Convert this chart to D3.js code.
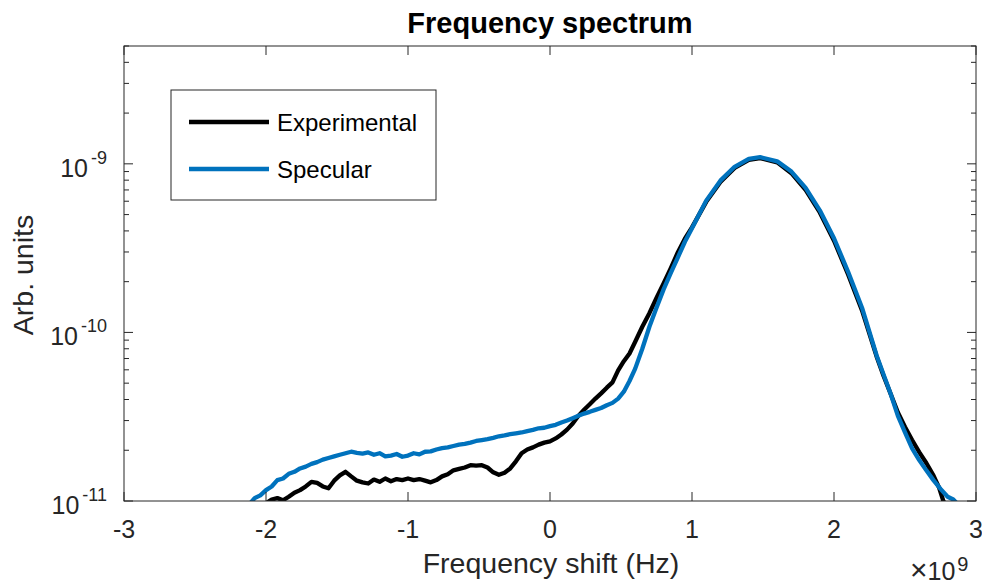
<!DOCTYPE html>
<html lang="en">
<head>
    <meta charset="utf-8"/>
    <title>Frequency spectrum</title>
    <script src="https://d3js.org/d3.v7.min.js"></script>
    <style>
        body { margin: 0; background: #fff; }
        svg { display: block; font-family: "Liberation Sans", Arial, Helvetica, sans-serif; }
    </style>
</head>
<body>
    <div id="chart"></div>

    <script>
        // x in units of 1e9 Hz
        const xTicks = [-3, -2, -1, 0, 1, 2, 3];
        const yTickExps = [-11, -10, -9];
        const seriesNames = ["Experimental", "Specular"];
        const seriesColors = ["#000000", "#0072BD"];

        const expX = [-2.0, -1.96, -1.92, -1.88, -1.84, -1.8, -1.76, -1.72, -1.68, -1.64, -1.6, -1.56, -1.52, -1.48, -1.44,
            -1.4, -1.36, -1.32, -1.28, -1.24, -1.2, -1.16, -1.12, -1.08, -1.04, -1.0, -0.96, -0.92, -0.88, -0.84, -0.8,
            -0.76, -0.72, -0.68, -0.64, -0.6, -0.56, -0.52, -0.48, -0.44, -0.4, -0.36, -0.32, -0.28, -0.24, -0.2, -0.16,
            -0.12, -0.08, -0.04, 0, 0.04, 0.08, 0.12, 0.16, 0.2, 0.24, 0.28, 0.32, 0.36, 0.4, 0.44, 0.48, 0.52, 0.56, 0.6,
            0.65, 0.7, 0.75, 0.8, 0.85, 0.9, 0.95, 1.0, 1.1, 1.2, 1.3, 1.4, 1.48, 1.6, 1.7, 1.8, 1.9, 2.0, 2.1, 2.2, 2.3,
            2.35, 2.4, 2.45, 2.5, 2.55, 2.6, 2.65, 2.7, 2.74, 2.77, 2.79];
        const expY = [0.97e-11, 1.02e-11, 1.04e-11, 1.01e-11, 1.06e-11, 1.12e-11, 1.16e-11, 1.22e-11, 1.30e-11, 1.28e-11,
            1.22e-11, 1.19e-11, 1.32e-11, 1.42e-11, 1.49e-11, 1.40e-11, 1.32e-11, 1.29e-11, 1.27e-11, 1.34e-11, 1.30e-11,
            1.36e-11, 1.31e-11, 1.35e-11, 1.33e-11, 1.36e-11, 1.33e-11, 1.35e-11, 1.32e-11, 1.29e-11, 1.33e-11, 1.40e-11,
            1.44e-11, 1.52e-11, 1.55e-11, 1.58e-11, 1.63e-11, 1.62e-11, 1.63e-11, 1.58e-11, 1.48e-11, 1.43e-11, 1.47e-11,
            1.56e-11, 1.72e-11, 1.92e-11, 2.02e-11, 2.08e-11, 2.16e-11, 2.22e-11, 2.26e-11, 2.35e-11, 2.48e-11, 2.65e-11,
            2.88e-11, 3.20e-11, 3.48e-11, 3.75e-11, 4.05e-11, 4.35e-11, 4.70e-11, 5.05e-11, 5.95e-11, 6.75e-11, 7.5e-11,
            8.8e-11, 1.08e-10, 1.30e-10, 1.60e-10, 1.95e-10, 2.40e-10, 2.98e-10, 3.60e-10, 4.20e-10, 5.95e-10, 7.8e-10,
            9.45e-10, 1.055e-9, 1.08e-9, 1.02e-9, 8.8e-10, 7.0e-10, 5.15e-10, 3.5e-10, 2.2e-10, 1.33e-10, 7.2e-11, 5.5e-11,
            4.3e-11, 3.35e-11, 2.75e-11, 2.3e-11, 1.95e-11, 1.68e-11, 1.42e-11, 1.2e-11, 1.0e-11, 0.94e-11];

        const specX = [-2.12, -2.08, -2.04, -2.0, -1.96, -1.92, -1.88, -1.84, -1.8, -1.76, -1.72, -1.68, -1.64, -1.6, -1.56,
            -1.52, -1.48, -1.44, -1.4, -1.36, -1.32, -1.28, -1.24, -1.2, -1.16, -1.12, -1.08, -1.04, -1.0, -0.96, -0.92,
            -0.88, -0.84, -0.8, -0.76, -0.72, -0.68, -0.64, -0.6, -0.56, -0.52, -0.48, -0.44, -0.4, -0.36, -0.32, -0.28,
            -0.24, -0.2, -0.16, -0.12, -0.08, -0.04, 0, 0.04, 0.08, 0.12, 0.16, 0.2, 0.24, 0.28, 0.32, 0.36, 0.4, 0.44,
            0.48, 0.52, 0.56, 0.6, 0.65, 0.7, 0.75, 0.8, 0.85, 0.9, 0.95, 1.0, 1.1, 1.2, 1.3, 1.4, 1.48, 1.6, 1.7, 1.8,
            1.9, 2.0, 2.1, 2.2, 2.3, 2.35, 2.4, 2.45, 2.5, 2.55, 2.6, 2.65, 2.7, 2.75, 2.8, 2.84, 2.87];
        const specY = [0.95e-11, 1.04e-11, 1.08e-11, 1.16e-11, 1.22e-11, 1.33e-11, 1.36e-11, 1.45e-11, 1.49e-11, 1.56e-11,
            1.60e-11, 1.66e-11, 1.70e-11, 1.76e-11, 1.80e-11, 1.84e-11, 1.88e-11, 1.92e-11, 1.96e-11, 1.93e-11, 1.91e-11,
            1.94e-11, 1.88e-11, 1.92e-11, 1.84e-11, 1.86e-11, 1.90e-11, 1.83e-11, 1.86e-11, 1.92e-11, 1.89e-11, 1.96e-11,
            1.97e-11, 2.02e-11, 2.06e-11, 2.08e-11, 2.12e-11, 2.16e-11, 2.18e-11, 2.22e-11, 2.27e-11, 2.30e-11, 2.33e-11,
            2.37e-11, 2.42e-11, 2.45e-11, 2.49e-11, 2.52e-11, 2.55e-11, 2.60e-11, 2.64e-11, 2.70e-11, 2.72e-11, 2.78e-11,
            2.83e-11, 2.92e-11, 3.00e-11, 3.10e-11, 3.20e-11, 3.30e-11, 3.38e-11, 3.47e-11, 3.56e-11, 3.70e-11, 3.82e-11,
            4.05e-11, 4.45e-11, 5.15e-11, 6.1e-11, 8.0e-11, 1.08e-10, 1.40e-10, 1.80e-10, 2.25e-10, 2.78e-10, 3.45e-10,
            4.15e-10, 6.05e-10, 7.95e-10, 9.6e-10, 1.07e-9, 1.095e-9, 1.035e-9, 9.0e-10, 7.2e-10, 5.3e-10, 3.62e-10,
            2.28e-10, 1.38e-10, 7.3e-11, 5.6e-11, 4.3e-11, 3.2e-11, 2.55e-11, 2.05e-11, 1.75e-11, 1.52e-11, 1.33e-11,
            1.18e-11, 1.06e-11, 1.02e-11, 0.96e-11];

        const width = 982, height = 584;
        const margin = {top: 46, right: 6, bottom: 83, left: 124};
        const innerWidth = width - margin.left - margin.right;
        const innerHeight = height - margin.top - margin.bottom;
        const axisColor = "#262626";

        const svg = d3.select("#chart").append("svg")
            .attr("width", width)
            .attr("height", height);

        const g = svg.append("g")
            .attr("transform", `translate(${margin.left},${margin.top})`);

        const x = d3.scaleLinear().domain([-3, 3]).range([0, innerWidth]);
        const y = d3.scaleLog().domain([1e-11, 5e-9]).range([innerHeight, 0]);

        g.append("clipPath").attr("id", "clip")
            .append("rect").attr("width", innerWidth).attr("height", innerHeight);

        // lines
        const line = d3.line()
            .x(d => x(d[0]))
            .y(d => y(d[1]));

        const series = [
            d3.zip(expX, expY),
            d3.zip(specX, specY)
        ];
        series.forEach((pts, i) => {
            g.append("path")
                .datum(pts)
                .attr("clip-path", "url(#clip)")
                .attr("fill", "none")
                .attr("stroke", seriesColors[i])
                .attr("stroke-width", 4.3)
                .attr("stroke-linejoin", "round")
                .attr("stroke-linecap", "round")
                .attr("d", line);
        });

        // ticks (inside, on all four sides)
        const ticks = g.append("g").attr("stroke", axisColor).attr("stroke-width", 1);
        xTicks.forEach(t => {
            const px = x(t);
            ticks.append("line").attr("x1", px).attr("x2", px).attr("y1", innerHeight).attr("y2", innerHeight - 9);
            ticks.append("line").attr("x1", px).attr("x2", px).attr("y1", 0).attr("y2", 9);
        });
        y.ticks().forEach(t => {
            const major = Math.abs(Math.log10(t) - Math.round(Math.log10(t))) < 1e-9;
            const len = major ? 9 : 5;
            const py = y(t);
            ticks.append("line").attr("x1", 0).attr("x2", len).attr("y1", py).attr("y2", py);
            ticks.append("line").attr("x1", innerWidth).attr("x2", innerWidth - len).attr("y1", py).attr("y2", py);
        });

        // axes box
        g.append("rect")
            .attr("width", innerWidth).attr("height", innerHeight)
            .attr("fill", "none").attr("stroke", axisColor).attr("stroke-width", 1);

        // x tick labels
        g.selectAll(".xlab").data(xTicks).enter().append("text")
            .attr("x", d => x(d))
            .attr("y", innerHeight + 37)
            .attr("text-anchor", "middle")
            .attr("fill", axisColor)
            .style("font-size", "25px")
            .text(d => d);

        // y tick labels 10^n
        yTickExps.forEach(e => {
            const t = g.append("text")
                .attr("x", -17)
                .attr("y", y(Math.pow(10, e)) + 13)
                .attr("text-anchor", "end")
                .attr("fill", axisColor)
                .style("font-size", "25px");
            t.append("tspan").text("10");
            t.append("tspan").attr("dx", 3).attr("dy", -13).style("font-size", "18px").text(e);
        });

        // x10^9 multiplier
        const mult = svg.append("text")
            .attr("x", 910)
            .attr("y", 580)
            .attr("fill", axisColor)
            .style("font-size", "25px");
        mult.append("tspan").style("font-size", "30px").text("\u00d7");
        mult.append("tspan").text("10");
        mult.append("tspan").attr("dx", 2).attr("dy", -9).style("font-size", "20px").text("9");

        // title and axis labels
        svg.append("text")
            .attr("x", margin.left + innerWidth / 2)
            .attr("y", 33)
            .attr("text-anchor", "middle")
            .style("font-size", "29px")
            .style("font-weight", "bold")
            .attr("fill", "#000")
            .text("Frequency spectrum");

        svg.append("text")
            .attr("x", 551)
            .attr("y", 573)
            .attr("text-anchor", "middle")
            .attr("fill", axisColor)
            .style("font-size", "28.5px")
            .text("Frequency shift (Hz)");

        svg.append("text")
            .attr("transform", "translate(33,275) rotate(-90)")
            .attr("text-anchor", "middle")
            .attr("fill", axisColor)
            .style("font-size", "28.5px")
            .text("Arb. units");

        // legend
        const legend = svg.append("g");
        legend.append("rect")
            .attr("x", 171).attr("y", 90)
            .attr("width", 265).attr("height", 110)
            .attr("fill", "#fff").attr("stroke", axisColor).attr("stroke-width", 1);
        seriesNames.forEach((name, i) => {
            const ly = 122 + i * 47;
            legend.append("line")
                .attr("x1", 189).attr("x2", 269)
                .attr("y1", ly).attr("y2", ly)
                .attr("stroke", seriesColors[i]).attr("stroke-width", 4.3);
            legend.append("text")
                .attr("x", 277).attr("y", ly + 9)
                .attr("fill", "#000")
                .style("font-size", "24px")
                .text(name);
        });
    </script>
</body>
</html>
